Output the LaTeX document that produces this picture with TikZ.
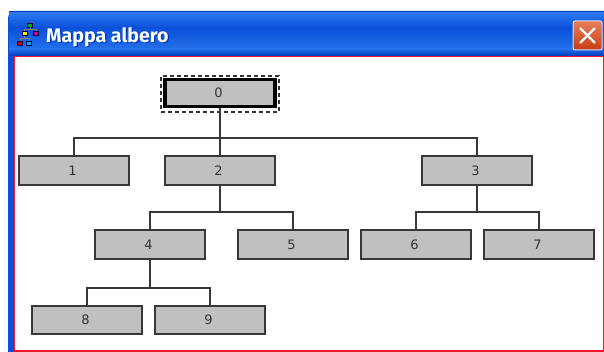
\documentclass[tikz,border=0pt]{standalone}
\usepackage{fontspec}
\setmainfont{DejaVu Sans}
\newfontfamily\titlefont{Fira Sans}
\usetikzlibrary{calc}
\definecolor{xpblue}{HTML}{0A50D8}
\definecolor{xpdark}{HTML}{0038B8}
\definecolor{xplight}{HTML}{2A78F0}
\definecolor{boxgray}{HTML}{C0C0C0}
\definecolor{edgegray}{HTML}{383838}
\definecolor{framered}{HTML}{F01828}
\definecolor{closeA}{HTML}{E8805C}
\definecolor{closeB}{HTML}{C83C10}
\tikzset{
  treebox/.style={draw=edgegray,fill=boxgray,line width=1.7pt,minimum width=110pt,minimum height=29pt,inner sep=0pt,text=black!80,font=\fontsize{13pt}{15pt}\selectfont,execute at end node={\hspace{3pt}}},
  link/.style={draw=edgegray,line width=1.7pt},
  mini/.style={draw=black!70!blue,line width=.7pt,minimum width=5pt,minimum height=4pt,inner sep=0pt},
  minilink/.style={draw=gray,line width=.7pt},
  titletext/.style={font=\titlefont\bfseries\fontsize{19.6pt}{22pt}\selectfont,inner sep=0pt,anchor=west}
}
\begin{document}
\begin{tikzpicture}[x=1pt,y=-1pt]
\useasboundingbox (0,0) rectangle (604,352);
\fill[white] (0,0) rectangle (604,352);
% window frame
\fill[xpblue] (8,352) -- (8,18) to[out=90,in=180] (15,11) -- (604,11) -- (604,352) -- cycle;
% title bar shading
\shade[top color=xpdark,bottom color=xpblue] (9,11.5) rectangle (604,15);
\shade[top color=xplight,bottom color=xpblue] (9,13) rectangle (604,28);
\shade[top color=xpblue,bottom color=xplight!80!xpblue] (9,28) rectangle (604,49);
\shade[top color=xplight!80!xpblue,bottom color=xpdark] (9,49) rectangle (604,56);
% client area
\fill[white] (14.5,56.5) rectangle (603.2,351);
\draw[framered,line width=1.4pt] (14.7,56.7) rectangle (603.2,351);
% title icon
\node[mini,fill=green!70!black] (i0) at (30,25) {};
\node[mini,fill=yellow] (i1) at (24.5,33.5) {};
\node[mini,fill=magenta!80!blue] (i2) at (36,33.5) {};
\node[mini,fill=red!80!black] (i3) at (20,43) {};
\node[mini,fill=cyan] (i4) at (29,43) {};
\coordinate (ib0) at (30,29.5);
\coordinate (ib1) at (24.5,38.5);
\draw[minilink] (i0) -- (ib0) (i1) |- (ib0) (i2) |- (ib0);
\draw[minilink] (i1) -- (ib1) (i3) |- (ib1) (i4) |- (ib1);
% title text
\node[titletext,text=xpdark] at (47.2,38) {Mappa albero};
\node[titletext,text=white] (title) at (46,36.8) {Mappa albero};
% close button
\node[draw=white!85!blue,line width=1pt,rounded corners=2pt,minimum width=29pt,minimum height=29pt,inner sep=0pt,top color=closeA,bottom color=closeB] (close) at (587.5,35.5) {};
\draw[white,line width=2.4pt,line cap=round] ($(close)+(-7,-7)$) -- ($(close)+(7,7)$) ($(close)+(-7,7)$) -- ($(close)+(7,-7)$);
% nodes
\node[treebox,draw=black,line width=3.2pt,minimum width=110pt,minimum height=27pt] (n0) at (220,93) {0};
\node[draw=black!80,line width=1.1pt,minimum width=118pt,minimum height=36pt,inner sep=0pt,dash pattern=on 4pt off 3pt] (focus) at (220,94) {};
\node[treebox] (n1) at (74,170.5) {1};
\node[treebox] (n2) at (220,170.5) {2};
\node[treebox] (n3) at (477,170.5) {3};
\node[treebox] (n4) at (150,244.5) {4};
\node[treebox] (n5) at (293,244.5) {5};
\node[treebox] (n6) at (416,244.5) {6};
\node[treebox] (n7) at (539,244.5) {7};
\node[treebox,minimum height=28pt] (n8) at (87,320) {8};
\node[treebox,minimum height=28pt] (n9) at (210,320) {9};
% bus points
\coordinate (b0) at (220,138);
\coordinate (b2) at (220,212);
\coordinate (b3) at (477,212);
\coordinate (b4) at (150,288);
% connectors
\draw[link] (n0.south) -- (b0);
\draw[link] (n2.north) -- (b0);
\draw[link] (n1.north) |- (b0);
\draw[link] (n3.north) |- (b0);
\draw[link] (n2.south) -- (b2);
\draw[link] (n4.north) |- (b2);
\draw[link] (n5.north) |- (b2);
\draw[link] (n3.south) -- (b3);
\draw[link] (n6.north) |- (b3);
\draw[link] (n7.north) |- (b3);
\draw[link] (n4.south) -- (b4);
\draw[link] (n8.north) |- (b4);
\draw[link] (n9.north) |- (b4);
\end{tikzpicture}
\end{document}
